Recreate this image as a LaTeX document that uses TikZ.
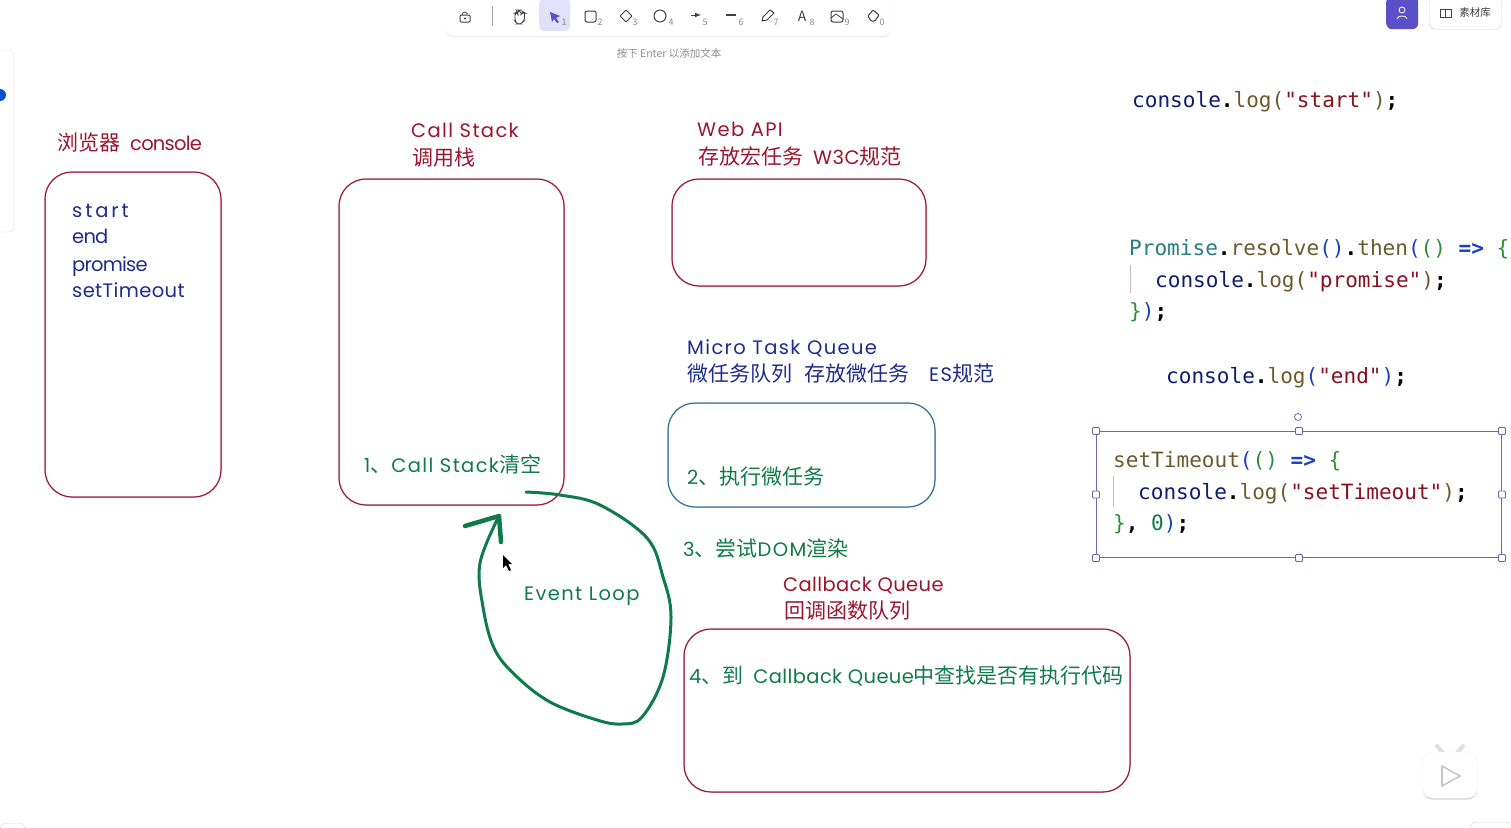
\documentclass[tikz,border=0pt]{standalone}
\usepackage{fontspec}
\usepackage{tikz}
\usetikzlibrary{shadows}
\setmainfont{Noto Sans CJK SC}
\newfontfamily\hwfont[LetterSpace=2]{Poppins}
\newfontfamily\hwwidefont[LetterSpace=7]{Poppins}
\newfontfamily\hwxfont[LetterSpace=15]{Poppins}
\newfontfamily\hwtightfont[LetterSpace=-4]{Poppins}
\newfontfamily\codefont{DejaVu Sans Mono}
\definecolor{sketchred}{HTML}{9A1530}
\definecolor{sketchnavy}{HTML}{1E2C8E}
\definecolor{sketchgreen}{HTML}{0F7A4B}
\definecolor{sketchblue}{HTML}{2F6C9C}
\definecolor{selviolet}{HTML}{6A66B6}
\definecolor{toolviolet}{HTML}{5B50C8}
\definecolor{toolpale}{HTML}{E2E0FA}
\definecolor{cfun}{HTML}{6A5A2C}
\definecolor{cvar}{HTML}{101C70}
\definecolor{cstr}{HTML}{8A1020}
\definecolor{cbl}{HTML}{1A3FC8}
\definecolor{cgr}{HTML}{2F8F35}
\definecolor{cte}{HTML}{267C80}
\newcommand{\hw}[1]{{\hwfont\fontsize{19.5}{20}\selectfont #1}}
\newcommand{\hwide}[1]{{\hwwidefont\fontsize{19.5}{20}\selectfont #1}}
\newcommand{\hwx}[1]{{\hwxfont\fontsize{19.5}{20}\selectfont #1}}
\newcommand{\hwt}[1]{{\hwtightfont\fontsize{19.5}{20}\selectfont #1}}
\newcommand{\cf}[1]{\textcolor{cfun}{#1}}
\newcommand{\cv}[1]{\textcolor{cvar}{#1}}
\newcommand{\cs}[1]{\textcolor{cstr}{#1}}
\newcommand{\cb}[1]{\textcolor{cbl}{#1}}
\newcommand{\cg}[1]{\textcolor{cgr}{#1}}
\newcommand{\pn}[1]{\textbf{#1}}
\tikzset{
  sketchbox/.style={draw=#1,line width=1pt,rounded corners=27pt,inner sep=0pt,anchor=north west,preaction={draw=#1!35,line width=1.6pt}},
  handtext/.style={text=#1,font=\fontsize{21}{21}\selectfont,inner sep=0pt,anchor=base west},
  codeline/.style={font=\codefont\fontsize{21.05}{21}\selectfont,inner sep=0pt,anchor=base west},
  handle/.style={draw=selviolet,fill=white,line width=.8pt,rounded corners=1pt,minimum size=7pt,inner sep=0pt},
  tooltip/.style={text=black!45,font=\fontsize{9}{9}\selectfont,inner sep=0pt},
  toolicon/.style={draw=black!75,line width=1pt},
  loopline/.style={draw=sketchgreen,line width=3pt,line cap=round,line join=round},
}
\begin{document}
\begin{tikzpicture}[x=1pt,y=-1pt]
\useasboundingbox (0,0) rectangle (1511,827);
% left panel and corners
\node (sidepanel) at (0,141) [draw=black!12,fill=white,rounded corners=4pt,anchor=east,minimum width=0pt,minimum height=182pt,text width=14pt,xshift=14pt] {};
\fill[blue!60!cyan!80!black] (0,95) circle (6);
\node (cornerl) at (0,823) [draw=black!15,rounded corners=6pt,anchor=north west,minimum width=25pt,minimum height=10pt,inner sep=0pt] {};
\node (cornerr) at (1470,822) [draw=black!15,rounded corners=6pt,anchor=north west,minimum width=41pt,minimum height=10pt,inner sep=0pt] {};
% toolbar
\node (toolbar) at (446,-8) [fill=white,rounded corners=8pt,anchor=north west,minimum width=445pt,minimum height=44pt,inner sep=0pt,drop shadow={opacity=.18,shadow xshift=0pt,shadow yshift=-1pt}] {};
\node (toolsel) at (539,-2) [fill=toolpale,rounded corners=6pt,anchor=north west,minimum width=31pt,minimum height=33pt,inner sep=0pt] {};
\draw[black!35] (492,6) -- (492,26);
\draw[toolicon,rounded corners=1pt] (460,15) rectangle (470,22);
\draw[toolicon,line width=.8pt] (462,15) arc (180:340:3);
\fill[black!75] (465,18.5) circle (1.2);
\draw[toolicon,line width=.9pt,rounded corners=2.5pt,fill=white] (515,21) -- (515,13) -- (517,12) -- (518,15) -- (518,10) -- (520,10) -- (521,15) -- (523,12) -- (525,13) -- (524,21) -- (521,24) -- (517,24) -- cycle;
\fill[toolviolet] (550,12) -- (560,16) -- (556,18) -- (559,22) -- (557,23) -- (554,19) -- (552,22) -- cycle;
\draw[toolicon,rounded corners=2pt] (585,11) rectangle (596,22);
\draw[toolicon,rounded corners=1pt] (620,16) -- (626,10) -- (632,16) -- (626,22) -- cycle;
\draw[toolicon] (660,16) circle (6);
\draw[toolicon,-latex] (691,15) -- (701,15);
\draw[toolicon,line width=1.6pt] (726,15) -- (736,15);
\draw[toolicon,line join=round] (762,21) -- (763,17) -- (770,10) -- (774,13) -- (767,20) -- cycle;
\node (toolA) at (802,16) [inner sep=0pt,text=black!75,font=\fontsize{14}{14}\selectfont] {A};
\draw[toolicon,rounded corners=2pt] (831,11) rectangle (843,22);
\draw[toolicon,line width=.8pt] (831,18) -- (836,14) -- (843,19);
\draw[toolicon,rounded corners=1pt] (868,16) -- (873,10) -- (879,15) -- (875,21) -- (871,21) -- cycle;
\foreach \dx/\dn in {564/1,600/2,635/3,671/4,705/5,741/6,776/7,812/8,847/9,882/0}
  \node (digit\dn) at (\dx,22) [tooltip] {\dn};
\node (entertip) at (669,54) [tooltip,font=\fontsize{10.5}{10.5}\selectfont] {按下 Enter 以添加文本};
% top right buttons
\node (teambtn) at (1386,-4) [fill=toolviolet,rounded corners=6pt,anchor=north west,minimum width=32pt,minimum height=33pt,inner sep=0pt] {};
\node (libbtn) at (1429,-4) [draw=black!20,fill=white,rounded corners=6pt,anchor=north west,minimum width=72pt,minimum height=33pt,inner sep=0pt] {};
\node (libtext) at (1475,13) [font=\fontsize{10.5}{10.5}\selectfont,text=black!75,inner sep=0pt] {素材库};
\draw[black!75] (1440,9) rectangle (1451,17) (1445.5,9) -- (1445.5,17);
\draw[white,line width=.8pt] (1402,10) circle (3) (1397,19) arc (180:360:5 and 3);
% boxes
\node (consolebox) at (44.5,171.5) [sketchbox=sketchred,minimum width=176pt,minimum height=325pt] {};
\node (stackbox) at (338.5,178.5) [sketchbox=sketchred,minimum width=225pt,minimum height=326pt] {};
\node (webbox) at (671.5,178.5) [sketchbox=sketchred,minimum width=254pt,minimum height=107pt] {};
\node (microbox) at (667.5,402.5) [sketchbox=sketchblue,minimum width=267pt,minimum height=104pt] {};
\node (callbackbox) at (683.5,628.5) [sketchbox=sketchred,minimum width=446pt,minimum height=163pt] {};
% titles
\node (consoletitle) at (57,150) [handtext=sketchred] {浏览器\hspace{10pt}\hwt{console}};
\node (stacktitle) at (411,137) [handtext=sketchred] {\hwide{Call Stack}};
\node (stacksub) at (412,165) [handtext=sketchred] {调用栈};
\node (webtitle) at (697,136) [handtext=sketchred] {\hwide{Web API}};
\node (websub) at (698,164) [handtext=sketchred] {存放宏任务\hspace{10pt}\hw{W3C}规范};
\node (microtitle) at (687,354) [handtext=sketchnavy] {\hwide{Micro Task Queue}};
\node (microsub) at (687,381) [handtext=sketchnavy] {微任务队列\hspace{12pt}存放微任务};
\node (microes) at (929,381) [handtext=sketchnavy] {\hwide{ES}规范};
\node (callbacktitle) at (783,591) [handtext=sketchred] {\hw{Callback Queue}};
\node (callbacksub) at (784,618) [handtext=sketchred] {回调函数队列};
% console output
\node (outstart) at (72,217) [handtext=sketchnavy] {\hwx{start}};
\node (outend) at (72,243) [handtext=sketchnavy] {\hwt{end}};
\node (outpromise) at (72,271) [handtext=sketchnavy] {\hwt{promise}};
\node (outtimeout) at (72,297) [handtext=sketchnavy] {\hw{setTimeout}};
% steps
\node (stepone) at (364,472) [handtext=sketchgreen] {\hw{1}、\hwide{Call Stack}清空};
\node (steptwo) at (687,484) [handtext=sketchgreen] {\hwide{2}、执行微任务};
\node (stepthree) at (683,556) [handtext=sketchgreen] {\hwide{3}、尝试\hwide{DOM}渲染};
\node (stepfour) at (689,683) [handtext=sketchgreen] {\hw{4}、到\hspace{10pt}\hw{Callback Queue}中查找是否有执行代码};
\node (looplabel) at (524,600) [handtext=sketchgreen] {\hwide{Event Loop}};
% event loop
\coordinate (loopstart) at (526,492);
\coordinate (looptip) at (499,516);
\coordinate (barbleft) at (465,526);
\coordinate (barbright) at (501,542);
\draw[loopline] plot[smooth,tension=.6] coordinates {(loopstart) (560,495) (600,505) (647,538) (663,577) (671,617) (663,677) (642,717) (622,724) (597,720) (550,702) (515,675) (494,648) (483,607) (480,563) (looptip)};
\draw[loopline,line width=4.5pt] (barbleft) -- (looptip) -- (barbright);
\fill[black] (503,555) -- (503,568) -- (506,565) -- (509,571) -- (511,570) -- (508,564) -- (512,564) -- cycle;
% code
\node (codestart) at (1132,107) [codeline] {\cv{console}\pn{.}\cf{log}\cf{(}\cs{"start"}\cf{)}\pn{;}};
\node (codepromise) at (1129,255) [codeline] {\textcolor{cte}{Promise}\pn{.}\cf{resolve}\cb{()}\pn{.}\cf{then}\cb{(}\cg{()} \cb{\textbf{=>}} \cg{\{}};
\node (codepromisein) at (1155,287) [codeline] {\cv{console}\pn{.}\cf{log}\cf{(}\cs{"promise"}\cf{)}\pn{;}};
\node (codepromiseend) at (1129,318) [codeline] {\cg{\}}\cb{)}\pn{;}};
\node (codeend) at (1166,383) [codeline] {\cv{console}\pn{.}\cf{log}\cb{(}\cs{"end"}\cb{)}\pn{;}};
\node (selbox) at (1096,431) [draw=selviolet,line width=1pt,anchor=north west,minimum width=405pt,minimum height=126pt,inner sep=0pt] {};
\node (codetimeout) at (1113,467) [codeline] {\cf{setTimeout}\cb{(}\cg{()} \cb{\textbf{=>}} \cg{\{}};
\node (codetimeoutin) at (1138,499) [codeline] {\cv{console}\pn{.}\cf{log}\cf{(}\cs{"setTimeout"}\cf{)}\pn{;}};
\node (codetimeoutend) at (1113,530) [codeline] {\cg{\}}\pn{,} \textcolor{sketchgreen}{0}\cb{)}\pn{;}};
\draw[black!25] (1130,265) -- (1130,293);
\draw[black!25] (1113,476) -- (1113,507);
\foreach \a/\n in {north west/a,north/b,north east/c,west/d,east/e,south west/f,south/g,south east/h}
  \node (handle\n) at (selbox.\a) [handle] {};
\node (rothandle) at (1298,417) [handle,circle,minimum size=7pt] {};
% play button
\draw[black!12,line width=4pt,line cap=round] (1437,746) -- (1444,754) (1463,746) -- (1456,754);
\node (playbtn) at (1450,775) [draw=black!6,fill=white,rounded corners=9pt,minimum width=54pt,minimum height=46pt,inner sep=0pt,drop shadow={opacity=.3,shadow xshift=0pt,shadow yshift=-1.5pt}] {};
\draw[black!22,fill=white,line width=1.6pt,line join=round] (1442,766) -- (1460,776) -- (1442,786) -- cycle;
\end{tikzpicture}
\end{document}
